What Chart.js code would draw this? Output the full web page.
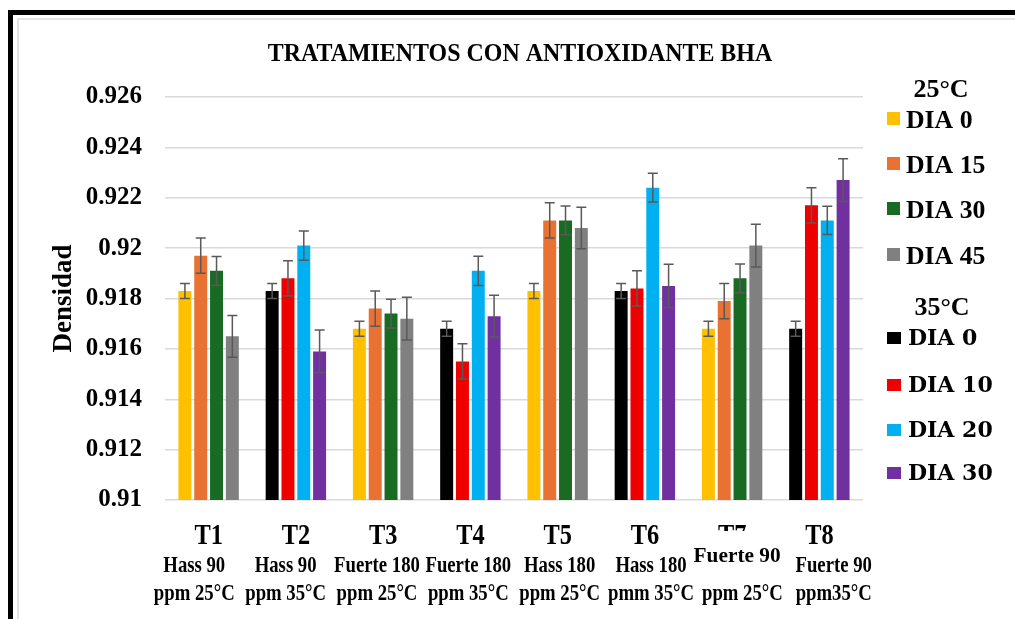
<!DOCTYPE html>
<html>
<head>
<meta charset="utf-8">
<script src="https://cdn.jsdelivr.net/npm/chart.js@4.4.1/dist/chart.umd.min.js"></script>
<style>
  html, body { margin: 0; padding: 0; background: #fff; overflow: hidden; }
  #wrap { position: relative; width: 1015px; height: 619px; }
  .frame-outer { position: absolute; left: 8px; top: 10px; width: 1100px; height: 700px; border: 5px solid #000; }
  .frame-inner { position: absolute; left: 17px; top: 18px; width: 1100px; height: 700px; border: 2px solid #e3e3e3; }
  canvas { position: absolute; left: 0; top: 0; }
</style>
</head>
<body>
<div id="wrap">
  <div class="frame-outer"></div>
  <div class="frame-inner"></div>
  <canvas id="densityChart" width="1015" height="619"></canvas>
</div>
<script>
// Categories and sub labels
const categories = ['T1', 'T2', 'T3', 'T4', 'T5', 'T6', 'T7', 'T8'];
const subLabels1 = ['Hass 90', 'Hass 90', 'Fuerte 180', 'Fuerte 180', 'Hass 180', 'Hass 180', 'Fuerte 90', 'Fuerte 90'];
const subLabels2 = ['ppm 25°C', 'ppm 35°C', 'ppm 25°C', 'ppm 35°C', 'ppm 25°C', 'pmm 35°C', 'ppm 25°C', 'ppm35°C'];

// 25°C series
const dia0_25 = [0.9183, null, 0.9168, null, 0.9183, null, 0.9168, null];
const dia15_25 = [0.9197, null, 0.9176, null, 0.9211, null, 0.9179, null];
const dia30_25 = [0.9191, null, 0.9174, null, 0.9211, null, 0.9188, null];
const dia45_25 = [0.9165, null, 0.9172, null, 0.9208, null, 0.9201, null];

// 35°C series
const dia0_35 = [null, 0.9183, null, 0.9168, null, 0.9183, null, 0.9168];
const dia10_35 = [null, 0.9188, null, 0.9155, null, 0.9184, null, 0.9217];
const dia20_35 = [null, 0.9201, null, 0.9191, null, 0.9224, null, 0.9211];
const dia30_35 = [null, 0.9159, null, 0.9173, null, 0.9185, null, 0.9227];

// Error bars (half range)
const err0_25 = [0.0003, null, 0.0003, null, 0.0003, null, 0.0003, null];
const err15_25 = [0.0007, null, 0.0007, null, 0.0007, null, 0.0007, null];
const err30_25 = [0.00057, null, 0.00057, null, 0.00057, null, 0.00057, null];
const err45_25 = [0.00083, null, 0.00085, null, 0.00082, null, 0.00085, null];
const err0_35 = [null, 0.0003, null, 0.0003, null, 0.0003, null, 0.0003];
const err10_35 = [null, 0.0007, null, 0.0007, null, 0.0007, null, 0.0007];
const err20_35 = [null, 0.00058, null, 0.00058, null, 0.00057, null, 0.00056];
const err30_35 = [null, 0.00085, null, 0.00083, null, 0.00086, null, 0.00085];

// Axis ticks
const yMin = 0.910;
const yMax = 0.926;
const yStep = 0.002;

// Legend
const legendLabels25 = ['DIA 0', 'DIA 15', 'DIA 30', 'DIA 45'];
const legendLabels35 = ['DIA 0', 'DIA 10', 'DIA 20', 'DIA 30'];
const colors25 = ['#FFC000', '#E97132', '#196B24', '#808080'];
const colors35 = ['#000000', '#EE0000', '#00B0F0', '#7030A0'];

const series = [
    { label: 'DIA 0 (25°C)', data: dia0_25, err: err0_25, color: colors25[0] },
    { label: 'DIA 15 (25°C)', data: dia15_25, err: err15_25, color: colors25[1] },
    { label: 'DIA 30 (25°C)', data: dia30_25, err: err30_25, color: colors25[2] },
    { label: 'DIA 45 (25°C)', data: dia45_25, err: err45_25, color: colors25[3] },
    { label: 'DIA 0 (35°C)', data: dia0_35, err: err0_35, color: colors35[0] },
    { label: 'DIA 10 (35°C)', data: dia10_35, err: err10_35, color: colors35[1] },
    { label: 'DIA 20 (35°C)', data: dia20_35, err: err20_35, color: colors35[2] },
    { label: 'DIA 30 (35°C)', data: dia30_35, err: err30_35, color: colors35[3] }
];

const serif = "'Liberation Serif', 'Times New Roman', serif";

// draw text squeezed or stretched horizontally
function drawText(ctx, text, x, y, font, sx, align) {
    ctx.save();
    ctx.font = font;
    ctx.textAlign = align || 'center';
    ctx.textBaseline = 'alphabetic';
    ctx.fillStyle = '#000';
    ctx.translate(x, y);
    ctx.scale(sx, 1);
    ctx.fillText(text, 0, 0);
    ctx.restore();
}

// Error bars
const errorBars = {
    id: 'errorBars',
    afterDatasetsDraw(chart) {
        const ctx = chart.ctx;
        const yScale = chart.scales.y;
        ctx.save();
        ctx.strokeStyle = '#595959';
        ctx.lineWidth = 1.5;
        chart.data.datasets.forEach((ds, di) => {
            const meta = chart.getDatasetMeta(di);
            meta.data.forEach((bar, i) => {
                const v = ds.data[i];
                const e = series[di].err[i];
                if (v == null || e == null) return;
                const top = yScale.getPixelForValue(v + e);
                const bot = yScale.getPixelForValue(v - e);
                ctx.beginPath();
                ctx.moveTo(bar.x, top);
                ctx.lineTo(bar.x, bot);
                ctx.moveTo(bar.x - 5, top);
                ctx.lineTo(bar.x + 5, top);
                ctx.moveTo(bar.x - 5, bot);
                ctx.lineTo(bar.x + 5, bot);
                ctx.stroke();
            });
        });
        ctx.restore();
    }
};

// Title, category labels and legend
const decorations = {
    id: 'decorations',
    afterDraw(chart) {
        const ctx = chart.ctx;
        const xScale = chart.scales.x;

        drawText(ctx, 'TRATAMIENTOS CON ANTIOXIDANTE BHA', 520, 61, 'bold 26px ' + serif, 0.92);

        categories.forEach((cat, i) => {
            const cx = xScale.getPixelForValue(i);
            const sx = cx + (i - 3.5) * 4.1;
            drawText(ctx, cat, cx, 544, 'bold 29px ' + serif, 0.84);
            if (i === 6) {
                // the label box of T7 overlaps its title
                ctx.fillStyle = '#fff';
                ctx.fillRect(cx - 46, 531, 96, 38);
                drawText(ctx, subLabels1[i], cx + 5, 562, 'bold 22px ' + serif, 0.97);
            } else {
                drawText(ctx, subLabels1[i], sx, 572, 'bold 24px ' + serif, 0.78);
            }
            drawText(ctx, subLabels2[i], sx, 600, 'bold 24px ' + serif, 0.78);
        });

        // legend 25°C
        drawText(ctx, '25°C', 941, 97, 'bold 25px ' + serif, 1.04);
        const base25 = [128, 173, 218, 264];
        legendLabels25.forEach((lab, i) => {
            ctx.fillStyle = colors25[i];
            ctx.fillRect(887, base25[i] - 16, 13, 13);
            drawText(ctx, lab, 906, base25[i], 'bold 25px ' + serif, 1.03, 'left');
        });

        // legend 35°C
        drawText(ctx, '35°C', 942, 315, 'bold 25px ' + serif, 1.04);
        const base35 = [345, 392, 437, 480];
        legendLabels35.forEach((lab, i) => {
            ctx.fillStyle = colors35[i];
            ctx.fillRect(887, base35[i] - 13, 14, 12);
            drawText(ctx, lab, 908, base35[i], "bold 22px 'DejaVu Serif', serif", 1.0, 'left');
        });
    }
};

const ctx = document.getElementById('densityChart').getContext('2d');
const densityChart = new Chart(ctx, {
    type: 'bar',
    data: {
        labels: categories,
        datasets: series.map(s => ({
            label: s.label,
            data: s.data,
            backgroundColor: s.color,
            borderWidth: 0,
            skipNull: true,
            categoryPercentage: 0.725,
            barPercentage: 0.82
        }))
    },
    options: {
        responsive: false,
        animation: false,
        devicePixelRatio: 1,
        layout: { padding: { left: 0, right: 152, top: 97, bottom: 0 } },
        plugins: {
            legend: { display: false },
            title: { display: false },
            tooltip: { enabled: false }
        },
        scales: {
            x: {
                grid: { display: false },
                border: { display: false },
                ticks: { display: false },
                afterFit: (scale) => { scale.height = 119; }
            },
            y: {
                min: yMin,
                max: yMax,
                ticks: {
                    stepSize: yStep,
                    padding: 23,
                    color: '#000',
                    font: { family: serif, size: 25, weight: 'bold' },
                    callback: (v) => String(+v.toFixed(3))
                },
                grid: { color: '#d9d9d9', lineWidth: 1.5, drawTicks: false },
                border: { display: false },
                title: {
                    display: true,
                    text: 'Densidad',
                    color: '#000',
                    font: { family: serif, size: 27, weight: 'bold' },
                    padding: { top: 48, bottom: 0 }
                },
                afterFit: (scale) => { scale.width = 165; }
            }
        }
    },
    plugins: [errorBars, decorations]
});
</script>
</body>
</html>
